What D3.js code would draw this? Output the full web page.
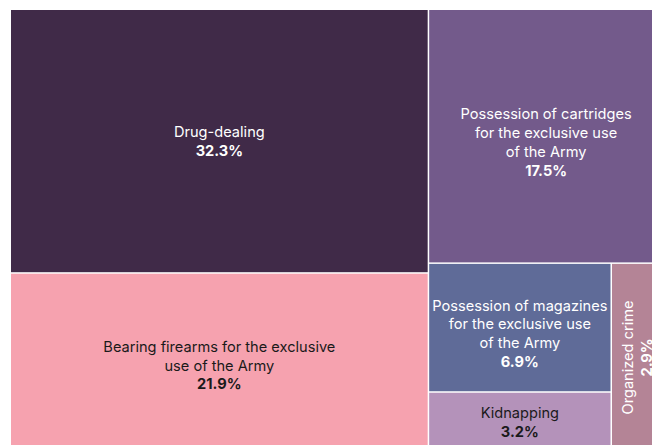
<!DOCTYPE html>
<html>
<head>
<meta charset="utf-8">
<script src="https://cdn.jsdelivr.net/npm/d3@7"></script>
<style>
  html, body { margin: 0; padding: 0; background: #fff; }
  svg { display: block; }
  text { font-family: Inter, "Noto Sans", sans-serif; }
</style>
</head>
<body>
<svg id="chart" width="652" height="445"></svg>
<script>
// Share of crimes by type (%)
const categories = [
  "Drug-dealing",
  "Bearing firearms for the exclusive use of the Army",
  "Possession of cartridges for the exclusive use of the Army",
  "Possession of magazines for the exclusive use of the Army",
  "Kidnapping",
  "Organized crime"
];
const shares = [32.3, 21.9, 17.5, 6.9, 3.2, 2.9];
// Wrapped label lines for each category
const labelLines = [
  ["Drug-dealing"],
  ["Bearing firearms for the exclusive", "use of the Army"],
  ["Possession of cartridges", "for the exclusive use", "of the Army"],
  ["Possession of magazines", "for the exclusive use", "of the Army"],
  ["Kidnapping"],
  ["Organized crime"]
];
const fills = ["#402a48", "#f6a2af", "#735a8b", "#5f6b98", "#b492ba", "#b48496"];
const inks  = ["#ffffff", "#1a1a1a", "#ffffff", "#ffffff", "#1a1a1a", "#ffffff"];

const svg = d3.select("#chart");
const margin = { left: 11, top: 10 };
const W = 652, H = 441;

const root = d3.hierarchy({
  children: categories.map((name, i) => ({ name, value: shares[i], i }))
}).sum(d => d.value || 0).sort((a, b) => b.value - a.value);

d3.treemap()
  .tile(d3.treemapSquarify)
  .size([W, H])
  .paddingInner(1.5)
  .round(false)(root);

const g = svg.append("g").attr("transform", `translate(${margin.left},${margin.top})`);

const cell = g.selectAll("g.cell")
  .data(root.leaves())
  .join("g")
  .attr("class", "cell");

cell.append("rect")
  .attr("x", d => d.x0)
  .attr("y", d => d.y0)
  .attr("width", d => d.x1 - d.x0)
  .attr("height", d => d.y1 - d.y0)
  .attr("fill", d => fills[d.data.i]);

const fontSize = 14.6, lineH = 18.8, nudge = 3;

cell.each(function(d) {
  const i = d.data.i;
  const lines = labelLines[i];
  const n = lines.length + 1;
  const w = d.x1 - d.x0, h = d.y1 - d.y0;
  const cx = (d.x0 + d.x1) / 2, cy = (d.y0 + d.y1) / 2;
  // narrow cells get a vertical label
  const rotate = w < 60 && h > w;
  const t = d3.select(this).append("text")
    .attr("fill", inks[i])
    .attr("font-size", fontSize)
    .attr("text-anchor", "middle")
    .attr("transform", rotate
      ? `translate(${cx},${cy}) rotate(-90)`
      : `translate(${cx},${cy + nudge * (n - 2)})`);
  const startY = -(n - 1) * lineH / 2 + fontSize * 0.36;
  lines.forEach((ln, k) => {
    t.append("tspan").attr("x", 0).attr("y", startY + k * lineH).text(ln);
  });
  t.append("tspan")
    .attr("x", 0)
    .attr("y", startY + lines.length * lineH)
    .attr("font-weight", 700)
    .text(d3.format(".1f")(d.data.value) + "%");
});
</script>
</body>
</html>
